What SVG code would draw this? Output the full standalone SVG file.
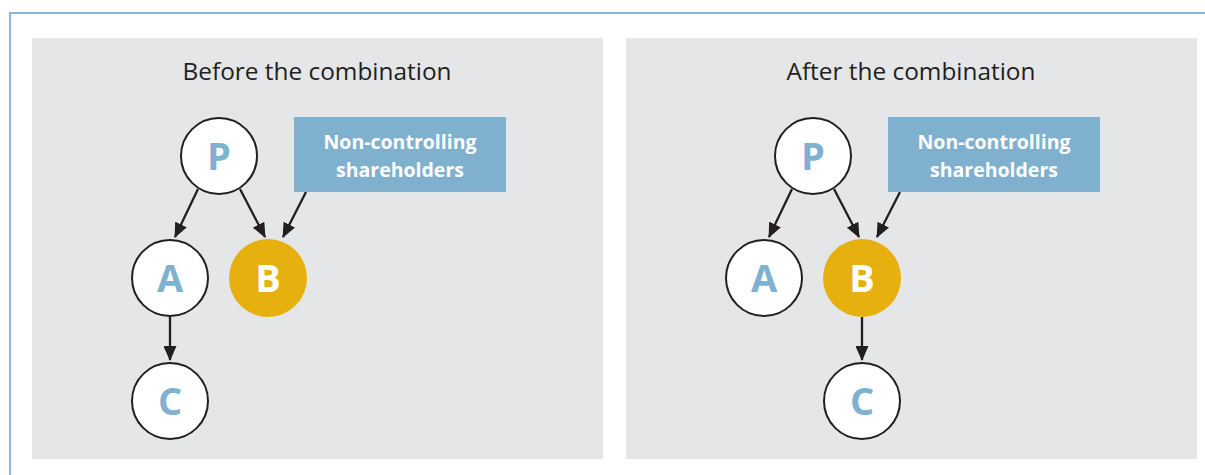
<svg xmlns="http://www.w3.org/2000/svg" width="1205" height="475" viewBox="0 0 1205 475">
<defs>
<style>
.panel{fill:#e5e6e8}
.title{font-family:"Open Sans","Noto Sans",sans-serif;font-size:24.4px;fill:#231f20;text-anchor:middle}
.node{fill:#ffffff;stroke:#231f20;stroke-width:2}
.gold{fill:#e6b00f}
.lbl{font-family:"Open Sans","Noto Sans",sans-serif;font-size:38px;font-weight:bold;text-anchor:middle}
.blue{fill:#7fb1d0}
.white{fill:#ffffff}
.box{fill:#7fb1cf}
.boxt{font-family:"Open Sans","Noto Sans",sans-serif;font-size:19.5px;font-weight:bold;fill:#ffffff;text-anchor:middle}
.edge{stroke:#231f20;stroke-width:2.3;fill:none;marker-end:url(#ah)}
</style>
<marker id="ah" viewBox="0 0 15 13" refX="14" refY="6.5" markerWidth="15" markerHeight="13" markerUnits="userSpaceOnUse" orient="auto">
<path d="M0,0 L15,6.5 L0,13 z" fill="#231f20"/>
</marker>
</defs>
<rect x="0" y="0" width="1205" height="475" fill="#ffffff"/>
<rect x="10" y="13" width="1210" height="480" fill="none" stroke="#86b8d8" stroke-width="2"/>
<rect class="panel" x="32" y="38" width="571" height="421"/>
<rect class="panel" x="626" y="38" width="571" height="421"/>
<text class="title" x="317" y="80">Before the combination</text>
<text class="title" x="911" y="80">After the combination</text>
<g id="edges">
<line class="edge" x1="198" y1="189" x2="175" y2="237"/>
<line class="edge" x1="240" y1="189" x2="265" y2="237"/>
<line class="edge" x1="306" y1="192" x2="283" y2="237"/>
<line class="edge" x1="170" y1="317" x2="170" y2="360"/>
<line class="edge" x1="792" y1="189" x2="769" y2="237"/>
<line class="edge" x1="834" y1="189" x2="859" y2="237"/>
<line class="edge" x1="900" y1="192" x2="877" y2="237"/>
<line class="edge" x1="862" y1="317" x2="862" y2="360"/>
</g>
<g id="P1"><circle class="node" cx="219" cy="156" r="38"/><text class="lbl blue" x="219" y="170">P</text></g>
<g id="A1"><circle class="node" cx="170" cy="278" r="38"/><text class="lbl blue" x="170" y="292">A</text></g>
<g id="B1"><circle class="gold" cx="268" cy="278" r="39"/><text class="lbl white" x="268" y="292">B</text></g>
<g id="C1"><circle class="node" cx="170" cy="401" r="38"/><text class="lbl blue" x="170" y="415">C</text></g>
<g id="NCS1"><rect class="box" x="294" y="117" width="212" height="75"/><text class="boxt" x="400" y="149">Non-controlling</text><text class="boxt" x="400" y="177">shareholders</text></g>
<g id="P2"><circle class="node" cx="813" cy="156" r="38"/><text class="lbl blue" x="813" y="170">P</text></g>
<g id="A2"><circle class="node" cx="764" cy="278" r="38"/><text class="lbl blue" x="764" y="292">A</text></g>
<g id="B2"><circle class="gold" cx="862" cy="278" r="39"/><text class="lbl white" x="862" y="292">B</text></g>
<g id="C2"><circle class="node" cx="862" cy="401" r="38"/><text class="lbl blue" x="862" y="415">C</text></g>
<g id="NCS2"><rect class="box" x="888" y="117" width="212" height="75"/><text class="boxt" x="994" y="149">Non-controlling</text><text class="boxt" x="994" y="177">shareholders</text></g>
</svg>
